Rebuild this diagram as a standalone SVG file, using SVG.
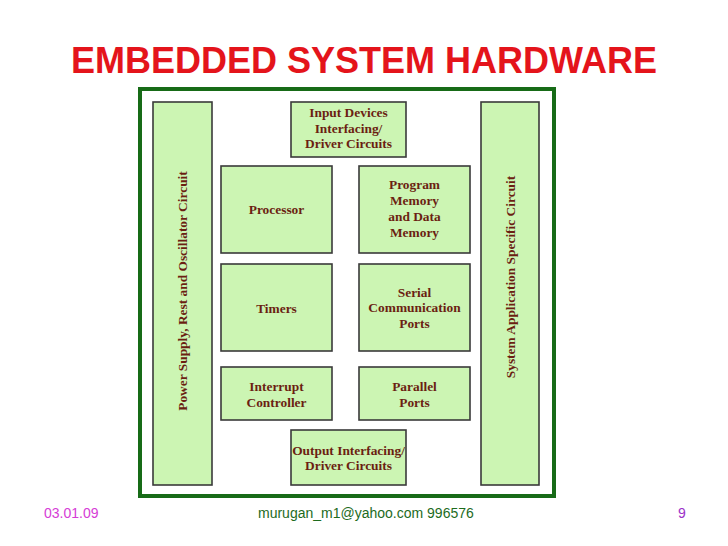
<svg xmlns="http://www.w3.org/2000/svg" width="728" height="546" viewBox="0 0 728 546">
<style>
.box{fill:#ccf5b3;stroke:#3a3a3a;stroke-width:1.6}
.lbl{font-family:"Liberation Serif",serif;font-weight:bold;font-size:13.4px;fill:#6b1f12;text-anchor:middle}
.foot{font-family:"Liberation Sans",sans-serif;font-size:14px}
</style>
<defs><clipPath id="fc"><rect x="200" y="495" width="274" height="40"/></clipPath></defs>
<rect width="728" height="546" fill="#fff"/>
<text x="364" y="73" text-anchor="middle" font-family="Liberation Sans,sans-serif" font-weight="bold" font-size="36" fill="#e4141b">EMBEDDED SYSTEM HARDWARE</text>
<rect id="frame" x="140" y="89" width="414" height="407" fill="#fff" stroke="#176b17" stroke-width="4"/>
<g id="power"><rect class="box" x="153" y="102" width="59" height="383"/><text class="lbl" transform="translate(187,291) rotate(-90)">Power Supply, Rest and Oscillator Circuit</text></g>
<g id="sysapp"><rect class="box" x="481" y="102" width="58" height="383"/><text class="lbl" transform="translate(515,277) rotate(-90)">System Application Specific Circuit</text></g>
<g id="input"><rect class="box" x="291" y="102" width="115" height="55"/><text class="lbl" x="348.5" y="117">Input Devices</text><text class="lbl" x="348.5" y="133">Interfacing/</text><text class="lbl" x="348.5" y="148">Driver Circuits</text></g>
<g id="processor"><rect class="box" x="221" y="166" width="111" height="87"/><text class="lbl" x="276.5" y="214">Processor</text></g>
<g id="memory"><rect class="box" x="359" y="166" width="111" height="87"/><text class="lbl" x="414.5" y="189">Program</text><text class="lbl" x="414.5" y="205">Memory</text><text class="lbl" x="414.5" y="221">and Data</text><text class="lbl" x="414.5" y="237">Memory</text></g>
<g id="timers"><rect class="box" x="221" y="264" width="111" height="87"/><text class="lbl" x="276.5" y="313">Timers</text></g>
<g id="serial"><rect class="box" x="359" y="264" width="111" height="87"/><text class="lbl" x="414.5" y="297">Serial</text><text class="lbl" x="414.5" y="312">Communication</text><text class="lbl" x="414.5" y="328">Ports</text></g>
<g id="interrupt"><rect class="box" x="221" y="367" width="111" height="53"/><text class="lbl" x="276.5" y="391">Interrupt</text><text class="lbl" x="276.5" y="407">Controller</text></g>
<g id="parallel"><rect class="box" x="359" y="367" width="111" height="53"/><text class="lbl" x="414.5" y="391">Parallel</text><text class="lbl" x="414.5" y="407">Ports</text></g>
<g id="output"><rect class="box" x="291" y="430" width="115" height="55"/><text class="lbl" x="348.5" y="455">Output Interfacing/</text><text class="lbl" x="348.5" y="470">Driver Circuits</text></g>
<g id="connectors"/>
<text class="foot" x="44" y="518" fill="#d63cd6">03.01.09</text>
<text class="foot" x="258" y="518" fill="#1d6b1d" clip-path="url(#fc)">murugan_m1@yahoo.com 9965765</text>
<text class="foot" x="678" y="518" fill="#9b30c8">9</text>
</svg>
